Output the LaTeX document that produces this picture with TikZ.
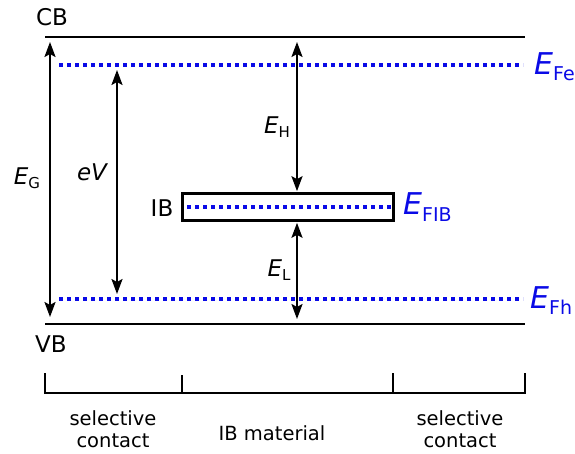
\documentclass[tikz,border=0pt]{standalone}
\usepackage{fontspec}
\setmainfont{DejaVu Sans}
\usetikzlibrary{arrows.meta}
\definecolor{efblue}{RGB}{10,10,230}
\newcommand\Esmall[1]{{\fontsize{23}{23}\selectfont\itshape E}\raisebox{-4pt}{\fontsize{15}{15}\selectfont #1}}
\newcommand\Ebig[1]{{\fontsize{30}{30}\selectfont\itshape E}\raisebox{-6pt}{\fontsize{19}{19}\selectfont #1}}
\tikzset{
  level/.style={line width=2.6pt},
  fermi/.style={line width=3.4pt, efblue, dash pattern=on 3.8pt off 4.2pt},
  dbl/.style={line width=2.2pt, {Stealth[length=15pt,width=11pt,inset=3pt]}-{Stealth[length=15pt,width=11pt,inset=3pt]}, shorten <=5pt, shorten >=5pt},
  lbl/.style={inner sep=0pt, font=\fontsize{23}{23}\selectfont},
  flbl/.style={inner sep=0pt, anchor=base west, text=efblue},
  blbl/.style={inner sep=0pt, align=center, font=\fontsize{19.5}{22}\selectfont},
  brk/.style={line width=2.6pt}
}
\begin{document}
\begin{tikzpicture}[x=1pt,y=-1pt]
\useasboundingbox (0,0) rectangle (575,454);
% levels
\coordinate (cbL) at (45,37);
\coordinate (cbR) at (525,37);
\coordinate (vbL) at (45,324);
\coordinate (vbR) at (525,324);
\draw[level] (cbL) -- (cbR);
\draw[level] (vbL) -- (vbR);
\node[lbl] (cb) at (52,17) {CB};
\node[lbl] (vb) at (51,344) {VB};
% fermi levels
\coordinate (feL) at (59,65);
\coordinate (feR) at (523,65);
\coordinate (fhL) at (59,299);
\coordinate (fhR) at (523,299);
\draw[fermi] (feL) -- (feR);
\draw[fermi] (fhL) -- (fhR);
% IB box
\node[draw, line width=2.6pt, minimum width=210.6pt, minimum height=27.4pt, inner sep=0pt] (ib) at (288,207) {};
\coordinate (fibL) at (187,207);
\coordinate (fibR) at (391,207);
\draw[fermi] (fibL) -- (fibR);
\node[lbl] (iblbl) at (162,208) {IB};
% labels of Fermi levels
\node[flbl] (efe) at (534,75) {\Ebig{Fe}};
\node[flbl] (efib) at (403,215) {\Ebig{FIB}};
\node[flbl] (efh) at (530,308) {\Ebig{Fh}};
% arrows
\coordinate (egT) at (50,37);
\coordinate (egB) at (50,324);
\draw[dbl, shorten >=7pt] (egT) -- (egB);
\node[lbl] (eg) at (27,178) {\Esmall{G}};
\coordinate (evT) at (117,65);
\coordinate (evB) at (117,299);
\draw[dbl] (evT) -- (evB);
\node[lbl] (ev) at (92,172) {\itshape eV};
\coordinate (ehT) at (297,37);
\draw[dbl, shorten >=0.8pt] (ehT) -- (ehT |- ib.north);
\node[lbl] (eh) at (277,127) {\Esmall{H}};
\coordinate (elB) at (297,324);
\draw[dbl, shorten <=0.8pt] (elB |- ib.south) -- (elB);
\node[lbl] (el) at (279,270) {\Esmall{L}};
% bracket
\coordinate (b1) at (45,373);
\coordinate (b2) at (182,375);
\coordinate (b3) at (393,373);
\coordinate (b4) at (525,373);
\draw[brk] (b1) -- (b1 |- 0,393) -- (b4 |- 0,393) -- (b4);
\draw[brk] (b2) -- (b2 |- 0,393);
\draw[brk] (b3) -- (b3 |- 0,393);
\node[blbl, anchor=base] (sc1) at (113,447) {selective\\contact};
\node[blbl, anchor=base] (ibm) at (272,440) {IB material};
\node[blbl, anchor=base] (sc2) at (460,447) {selective\\contact};
\end{tikzpicture}
\end{document}
